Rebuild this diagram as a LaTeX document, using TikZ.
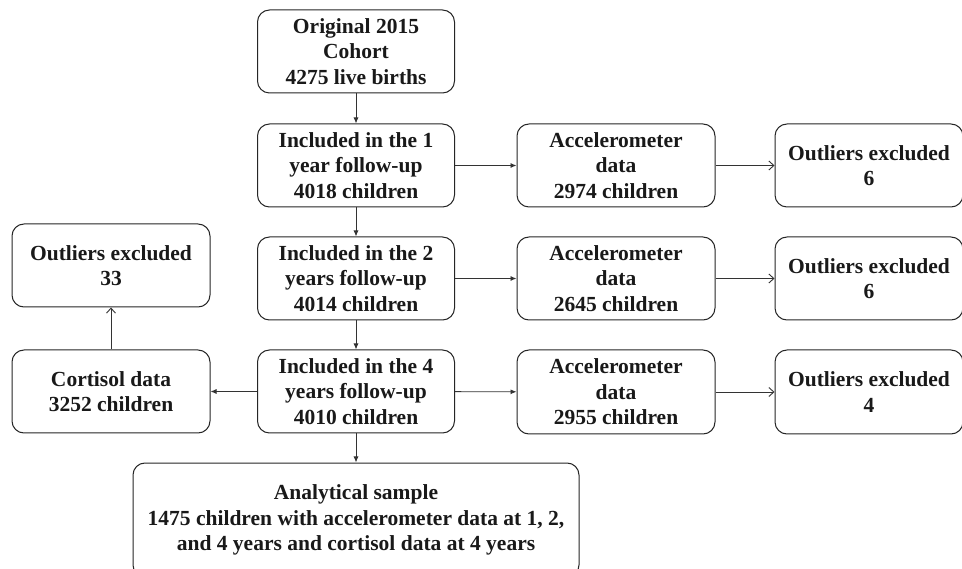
\documentclass[tikz,border=0pt]{standalone}
\usepackage{fontspec}
\setmainfont{Liberation Serif}
\usetikzlibrary{arrows.meta}
\begin{document}
\begin{tikzpicture}[x=1pt,y=-1pt,
  box/.style={draw=black!85, line width=1pt, rounded corners=12pt, align=center,
    font=\fontsize{21.5}{25.5}\selectfont\bfseries, inner sep=0pt, text=black!90},
  fa/.style={draw=black!80, line width=0.9pt, -{Latex[length=6pt,width=5pt]}},
  oa/.style={draw=black!80, line width=0.9pt, -{Straight Barb[length=5pt,width=9pt,line width=0.9pt]}}]
\clip (0,0) rectangle (962,569);
\fill[white] (0,0) rectangle (962,569);
\node[box, minimum width=197pt, minimum height=83pt] (orig) at (356,51.5) {Original 2015\\Cohort\\4275 live births};
\node[box, minimum width=197pt, minimum height=83pt] (y1) at (356,165.5) {Included in the 1\\year follow-up\\4018 children};
\node[box, minimum width=197pt, minimum height=83pt] (y2) at (356,278.5) {Included in the 2\\years follow-up\\4014 children};
\node[box, minimum width=197pt, minimum height=83pt] (y4) at (356,391.5) {Included in the 4\\years follow-up\\4010 children};
\node[box, minimum width=198pt, minimum height=83pt] (a1) at (616,165.5) {Accelerometer\\data\\2974 children};
\node[box, minimum width=198pt, minimum height=83pt] (a2) at (616,278.5) {Accelerometer\\data\\2645 children};
\node[box, minimum width=198pt, minimum height=84pt] (a4) at (616,392) {Accelerometer\\data\\2955 children};
\node[box, minimum width=188pt, minimum height=83pt] (o1) at (869,165.5) {Outliers excluded\\6};
\node[box, minimum width=188pt, minimum height=83pt] (o2) at (869,278.5) {Outliers excluded\\6};
\node[box, minimum width=188pt, minimum height=84pt] (o4) at (869,392) {Outliers excluded\\4};
\node[box, minimum width=198pt, minimum height=83pt] (cort) at (111,391.5) {Cortisol data\\3252 children};
\node[box, minimum width=198pt, minimum height=83pt] (o33) at (111,265.5) {Outliers excluded\\33};
\node[box, minimum width=446pt, minimum height=114pt] (an) at (356,520) {Analytical sample\\1475 children with accelerometer data at 1, 2,\\and 4 years and cortisol data at 4 years};
\draw[fa] (orig) -- (y1);
\draw[fa] (y1) -- (y2);
\draw[fa] (y2) -- (y4);
\draw[fa] (y4) -- (an);
\draw[fa] (y1) -- (a1);
\draw[fa] (y2) -- (a2);
\draw[fa] (y4) -- (a4);
\draw[fa] (y4) -- (cort);
\draw[oa] (a1) -- (o1);
\draw[oa] (a2) -- (o2);
\draw[oa] (a4) -- (o4);
\draw[oa] (cort) -- (o33);
\end{tikzpicture}
\end{document}
